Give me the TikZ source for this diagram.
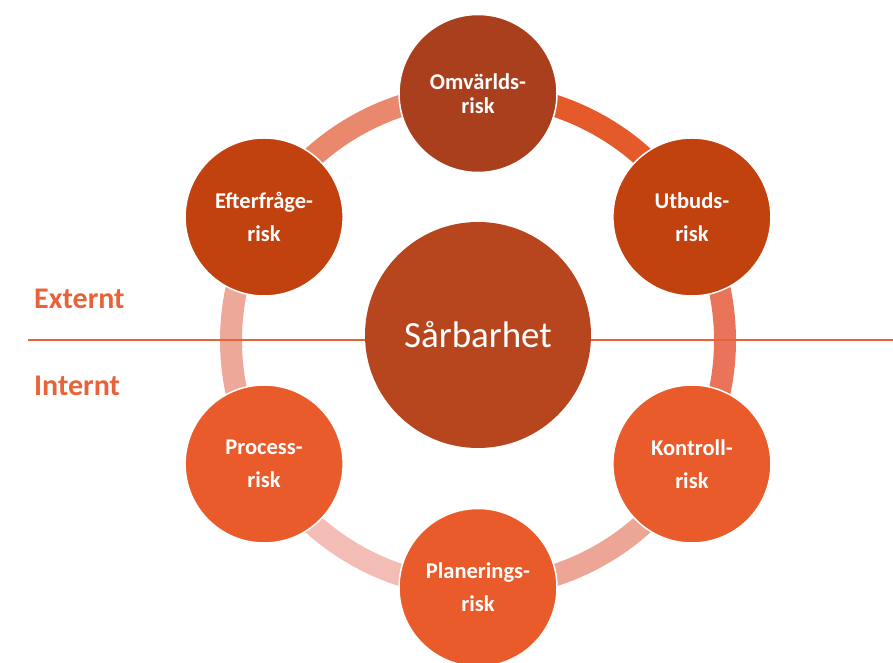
\documentclass[tikz,border=0pt]{standalone}
\usepackage{fontspec}
\setmainfont{Carlito}
\definecolor{cdark}{HTML}{A93F1D}
\definecolor{cmid}{HTML}{C1410F}
\definecolor{clight}{HTML}{E95B2B}
\definecolor{ccenter}{HTML}{B7461F}
\definecolor{linec}{HTML}{E8633A}
\definecolor{seg1}{HTML}{E55A2B}
\definecolor{seg2}{HTML}{E9745A}
\definecolor{seg3}{HTML}{EDA595}
\definecolor{seg4}{HTML}{F3BDB5}
\definecolor{seg5}{HTML}{EEA89A}
\definecolor{seg6}{HTML}{E9886C}
\tikzset{
  riskbox/.style={circle, draw=white, line width=1.5pt, minimum size=158pt, inner sep=0pt,
    text=white, align=center, font=\bfseries\fontsize{22.5}{33}\selectfont},
  ringseg/.style={line width=22pt, line cap=butt},
  sidelabel/.style={anchor=base west, text=linec, font=\bfseries\fontsize{30}{32}\selectfont, inner sep=0pt},
  divider/.style={draw=linec, line width=2pt}
}
\begin{document}
\begin{tikzpicture}[x=1pt,y=1pt]
\useasboundingbox (0,0) rectangle (893,663);
% positions on the ring (center 478,322.5; radius 247)
\coordinate (pomv) at (478,569.5);
\coordinate (putb) at (691.9,446);
\coordinate (pkon) at (691.9,199);
\coordinate (ppla) at (478,75.5);
\coordinate (ppro) at (264.1,199);
\coordinate (peft) at (264.1,446);
% ring segments
\draw[ringseg, seg1] (pomv) arc[start angle=90, end angle=30, radius=247];
\draw[ringseg, seg2] (putb) arc[start angle=30, end angle=-30, radius=247];
\draw[ringseg, seg3] (pkon) arc[start angle=-30, end angle=-90, radius=247];
\draw[ringseg, seg4] (ppla) arc[start angle=-90, end angle=-150, radius=247];
\draw[ringseg, seg5] (ppro) arc[start angle=210, end angle=150, radius=247];
\draw[ringseg, seg6] (peft) arc[start angle=150, end angle=90, radius=247];
% divider line
\coordinate (lstart) at (28,323);
\coordinate (lend) at (893,323);
\draw[divider] (lstart) -- (lend);
% labels
\node[sidelabel] (ext) at (34,354) {Externt};
\node[sidelabel] (int) at (34,267) {Internt};
% center
\node[circle, fill=ccenter, minimum size=226pt, inner sep=0pt, text=white,
      font=\fontsize{37}{40}\selectfont] (sar) at (478,328) {Sårbarhet};
% outer circles
\node[riskbox, fill=cdark, font=\bfseries\fontsize{22.5}{24}\selectfont] (omv) at (pomv) {Omvärlds-\\risk};
\node[riskbox, fill=cmid] (utb) at (putb) {Utbuds-\\risk};
\node[riskbox, fill=clight] (kon) at (pkon) {Kontroll-\\risk};
\node[riskbox, fill=clight] (pla) at (ppla) {Planerings-\\risk};
\node[riskbox, fill=clight] (pro) at (ppro) {Process-\\risk};
\node[riskbox, fill=cmid] (eft) at (peft) {Efterfråge-\\risk};
\end{tikzpicture}
\end{document}
